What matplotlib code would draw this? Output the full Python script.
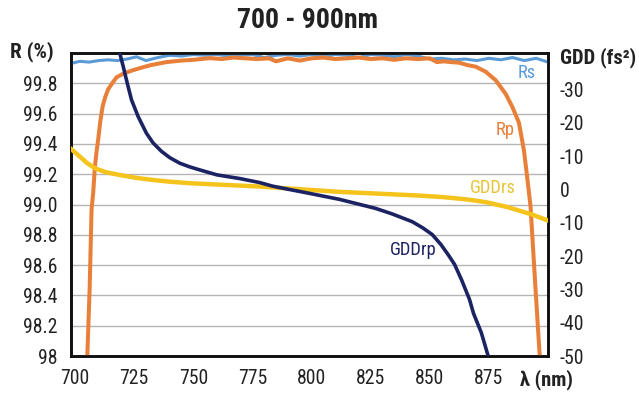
import matplotlib
matplotlib.use("Agg")
import matplotlib.pyplot as plt
import matplotlib.font_manager as fm
from matplotlib.ticker import FixedLocator, FixedFormatter

# the original uses a condensed sans; take the narrowest one installed
_fonts = fm.fontManager.ttflist
_names = {f.name for f in _fonts}
STRETCH = "normal"
if "Liberation Sans Narrow" in _names:
    FONT, K = "Liberation Sans Narrow", 1.0
elif "Roboto Condensed" in _names:
    FONT, K = "Roboto Condensed", 0.95
elif any(f.name == "DejaVu Sans" and f.stretch == "condensed" for f in _fonts):
    FONT, K, STRETCH = "DejaVu Sans", 0.86, "condensed"
else:
    FONT, K = "Roboto", 0.84
plt.rcParams["font.family"] = [FONT, "DejaVu Sans"]
plt.rcParams["font.stretch"] = STRETCH

BLUE, ORANGE, GOLD, NAVY = "#5b9bd5", "#e9803a", "#f5c41c", "#1c2362"
INK, GRID = "#222222", "#b4b4b4"

# reflectance, s-polarisation (%)
rs_nm = [698, 702, 706, 710, 714, 718, 722, 726, 730, 735, 740, 745, 750, 755,
         760, 765, 770, 775, 780, 785, 790, 795, 800, 805, 810, 815, 820, 825,
         830, 835, 840, 845, 850, 855, 860, 865, 870, 875, 880, 885, 890, 895, 900]
rs_val = [99.93, 99.945, 99.94, 99.95, 99.955, 99.95, 99.96, 99.975, 99.95, 99.97,
          99.985, 99.98, 99.99, 99.985, 99.99, 99.98, 99.985, 99.99, 99.97, 99.985,
          99.99, 99.98, 99.99, 99.975, 99.99, 99.985, 99.97, 99.99, 99.985, 99.975,
          99.99, 99.98, 99.96, 99.965, 99.955, 99.96, 99.95, 99.965, 99.955, 99.97,
          99.95, 99.965, 99.94]

# reflectance, p-polarisation (%)
rp_nm = [705.2, 706.2, 707.0, 707.7, 708.4, 709.2, 709.8, 710.7, 711.7, 712.8, 714,
         715.7, 717.6, 720, 723.2, 727.4, 732, 738.7, 745, 750, 757, 762, 767, 772,
         777, 782, 785, 790, 795, 800, 805, 810, 815, 820, 825, 830, 835, 840, 845,
         850, 853, 856, 859, 862.4, 866, 869.4, 873.6, 877.9, 882.1, 884.9, 887.7,
         889.8, 891.2, 892.6, 894.5, 896.5]
rp_val = [98.0, 98.45, 98.97, 99.08, 99.25, 99.36, 99.43, 99.55, 99.65, 99.71, 99.76,
          99.80, 99.84, 99.86, 99.88, 99.90, 99.92, 99.94, 99.95, 99.955, 99.966,
          99.96, 99.97, 99.965, 99.96, 99.965, 99.945, 99.965, 99.95, 99.965, 99.97,
          99.96, 99.965, 99.97, 99.96, 99.965, 99.955, 99.965, 99.96, 99.965, 99.94,
          99.945, 99.94, 99.936, 99.92, 99.91, 99.877, 99.82, 99.73, 99.645, 99.54,
          99.36, 99.18, 98.99, 98.5, 98.0]

# group delay dispersion (fs^2)
gddrs_nm = [698.3, 702, 705, 708.4, 713, 719, 726, 733, 740, 748.5, 760, 778, 795,
            811.8, 830, 845, 856, 866, 873.8, 883, 893.2, 899.5]
gddrs_val = [12.2, 9.9, 8.0, 6.4, 5.2, 4.35, 3.5, 2.85, 2.35, 1.9, 1.5, 0.9, 0.1,
             -0.7, -1.3, -1.8, -2.3, -3.0, -3.8, -5.3, -7.5, -9.2]

gddrp_nm = [718.9, 720.4, 722.1, 723.9, 726.7, 730.2, 733, 736.5, 740, 744.3, 748.5,
            752.7, 760, 769.6, 778, 783.6, 790, 797.7, 811.8, 827, 834, 842.6, 847,
            851, 854.7, 858, 860.5, 863.5, 866.8, 868.5, 871.8, 874.7]
gddrp_val = [41, 36.9, 31.9, 26.9, 21.9, 16.9, 14.0, 11.5, 9.6, 7.9, 6.8, 5.9, 4.4,
             3.3, 2.1, 1.0, 0.1, -0.96, -2.95, -5.65, -7.3, -9.67, -11.5, -13.5,
             -16.5, -19.8, -22.5, -27.2, -33.0, -37.2, -43.0, -50]

x_ticks = [700, 725, 750, 775, 800, 825, 850, 875]
r_ticks = [98, 98.2, 98.4, 98.6, 98.8, 99.0, 99.2, 99.4, 99.6, 99.8]
r_labels = ["98", "98.2", "98.4", "98.6", "98.8", "99.0", "99.2", "99.4", "99.6", "99.8"]
gdd_ticks = [-50, -40, -30, -20, -10, 0, 10, 20, 30]
gdd_labels = ["-50", "-40", "-30", "-20", "-10", "0", "-10", "-20", "-30"]

W, H = 639, 401
fig = plt.figure(figsize=(W / 100, H / 100), dpi=100)
ax = fig.add_axes([71 / W, 45 / H, 477 / W, 303 / H])
ax2 = ax.twinx()

ax.plot(rs_nm, rs_val, color=BLUE, lw=2.2, zorder=3)
ax.plot(rp_nm, rp_val, color=ORANGE, lw=2.9, zorder=4, solid_joinstyle="round")
ax2.plot(gddrs_nm, gddrs_val, color=GOLD, lw=3.2, zorder=3, solid_joinstyle="round")
ax2.plot(gddrp_nm, gddrp_val, color=NAVY, lw=2.6, zorder=4, solid_joinstyle="round")

ax.set_xlim(698.3, 900)
ax.set_ylim(98, 100)
ax2.set_ylim(-50, 41)

ax.xaxis.set_major_locator(FixedLocator(x_ticks))
ax.yaxis.set_major_locator(FixedLocator(r_ticks))
ax.yaxis.set_major_formatter(FixedFormatter(r_labels))
ax2.yaxis.set_major_locator(FixedLocator(gdd_ticks))
ax2.yaxis.set_major_formatter(FixedFormatter(gdd_labels))

ax.grid(axis="y", color=GRID, lw=1.0)
ax.set_axisbelow(True)
for a in (ax, ax2):
    for s in a.spines.values():
        s.set_linewidth(1.9)
        s.set_color("#111111")
ax.tick_params(axis="both", length=0, labelsize=15 * K, labelcolor=INK)
ax.tick_params(axis="y", pad=9.5)
ax.tick_params(axis="x", pad=9)
ax2.tick_params(axis="y", length=0, labelsize=15 * K, labelcolor=INK, pad=8.5)


def ftext(x, y, s, **kw):
    fig.text(x / W, 1 - y / H, s, va="center", **kw)


ftext(308, 20, "700 - 900nm", ha="center", fontsize=21 * K, fontweight="bold", color=INK)
ftext(10, 52, "R (%)", ha="left", fontsize=16 * K, fontweight="bold", color=INK)
ftext(560, 58, "GDD (fs²)", ha="left", fontsize=15.5 * K, fontweight="bold", color=INK)
ftext(520, 380, "λ (nm)", ha="left", fontsize=15.5 * K, fontweight="bold", color=INK)

ftext(518, 73, "Rs", ha="left", fontsize=14 * K, color=BLUE)
ftext(496, 130, "Rp", ha="left", fontsize=14 * K, color=ORANGE)
ftext(470, 188, "GDDrs", ha="left", fontsize=14 * K, color="#e8c43a")
ftext(390, 250, "GDDrp", ha="left", fontsize=14 * K, color=NAVY)

fig.savefig("out.png", dpi=100, facecolor="white")
